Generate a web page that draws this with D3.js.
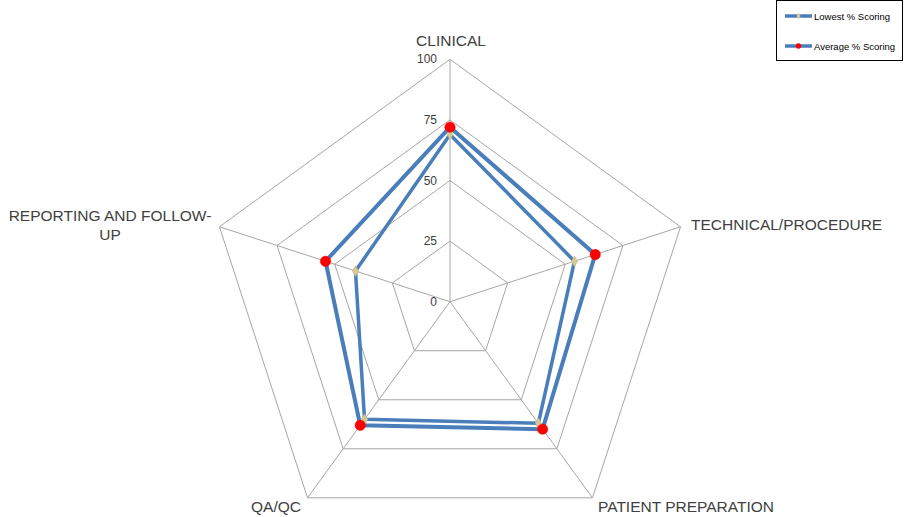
<!DOCTYPE html>
<html>
<head>
<meta charset="utf-8">
<script src="https://cdn.jsdelivr.net/npm/d3@7"></script>
<style>
  body { margin: 0; background: #fff; }
  svg { display: block; font-family: "Liberation Sans", Arial, sans-serif; }
</style>
</head>
<body>
<div id="chart"></div>
<script>
const categories = ["CLINICAL", "TECHNICAL/PROCEDURE", "PATIENT PREPARATION", "QA/QC", "REPORTING AND FOLLOW-UP"];
const lowestScoring = [69, 54, 62, 60, 41];
const averageScoring = [72, 63, 65, 63, 54];
const tickValues = [0, 25, 50, 75, 100];
const seriesNames = ["Lowest % Scoring", "Average % Scoring"];

const width = 904, height = 517;
const cx = 450, cy = 301.7, radius = 242.4;

const svg = d3.select("#chart").append("svg")
  .attr("width", width)
  .attr("height", height);

const r = d3.scaleLinear().domain([0, 100]).range([0, radius]);
const angle = i => -Math.PI / 2 + i * 2 * Math.PI / categories.length;
const pt = (i, v) => [cx + r(v) * Math.cos(angle(i)), cy + r(v) * Math.sin(angle(i))];

const grid = svg.append("g");
// rings
tickValues.filter(t => t > 0).forEach(t => {
  grid.append("polygon")
    .attr("points", categories.map((_, i) => pt(i, t).join(",")).join(" "))
    .attr("fill", "none")
    .attr("stroke", "#a6a6a6")
    .attr("stroke-width", 1);
});
// spokes
categories.forEach((_, i) => {
  const [x, y] = pt(i, 100);
  grid.append("line")
    .attr("x1", cx).attr("y1", cy).attr("x2", x).attr("y2", y)
    .attr("stroke", "#a6a6a6").attr("stroke-width", 1);
});

// tick labels
svg.append("g").selectAll("text")
  .data(tickValues)
  .join("text")
  .attr("x", cx - 13)
  .attr("y", d => cy - r(d) + 4)
  .attr("text-anchor", "end")
  .attr("font-size", 12)
  .attr("fill", "#404040")
  .text(d => d);

// category labels
const labelPos = [
  { x: 451, y: 46, anchor: "middle", lines: ["CLINICAL"] },
  { x: 691, y: 230, anchor: "start", lines: ["TECHNICAL/PROCEDURE"] },
  { x: 598, y: 512, anchor: "start", lines: ["PATIENT PREPARATION"] },
  { x: 301, y: 512, anchor: "end", lines: ["QA/QC"] },
  { x: 110, y: 221, anchor: "middle", lines: ["REPORTING AND FOLLOW-", "UP"] }
];
labelPos.forEach(p => {
  const t = svg.append("text")
    .attr("x", p.x).attr("y", p.y)
    .attr("text-anchor", p.anchor)
    .attr("font-size", 15.5)
    .attr("fill", "#404040");
  p.lines.forEach((l, k) => {
    t.append("tspan").attr("x", p.x).attr("dy", k === 0 ? 0 : 19).text(l);
  });
});

const lineColor = "#4a7ebb";
const series = [
  { name: seriesNames[0], values: lowestScoring, width: 3.5, marker: "diamond", fill: "#d4c894" },
  { name: seriesNames[1], values: averageScoring, width: 4, marker: "circle", fill: "#ff0000" }
];

series.forEach(s => {
  const pts = s.values.map((v, i) => pt(i, v));
  svg.append("path")
    .attr("d", d3.line()(pts) + "Z")
    .attr("fill", "none")
    .attr("stroke", lineColor)
    .attr("stroke-width", s.width)
    .attr("stroke-linejoin", "round");
});
series.forEach(s => {
  const pts = s.values.map((v, i) => pt(i, v));
  const sym = s.marker === "diamond"
    ? d3.symbol().type(d3.symbolDiamond).size(34)
    : d3.symbol().type(d3.symbolCircle).size(85);
  svg.append("g").selectAll("path")
    .data(pts)
    .join("path")
    .attr("transform", d => `translate(${d[0]},${d[1]})`)
    .attr("d", sym)
    .attr("fill", s.fill)
    .attr("stroke", s.marker === "diamond" ? "#c4b884" : "#ff0000")
    .attr("stroke-width", 0.5);
});

// legend
const legend = svg.append("g");
legend.append("rect")
  .attr("x", 776.5).attr("y", 0.5).attr("width", 126).attr("height", 60)
  .attr("fill", "#fff").attr("stroke", "#000").attr("stroke-width", 1);
series.forEach((s, i) => {
  const y = 16 + i * 30;
  legend.append("line")
    .attr("x1", 785).attr("x2", 812).attr("y1", y).attr("y2", y)
    .attr("stroke", lineColor).attr("stroke-width", 3.5);
  legend.append("path")
    .attr("transform", `translate(798.5,${y})`)
    .attr("d", d3.symbol().type(s.marker === "diamond" ? d3.symbolDiamond : d3.symbolCircle).size(s.marker === "diamond" ? 14 : 22))
    .attr("fill", s.fill);
  legend.append("text")
    .attr("x", 814).attr("y", y + 3.5)
    .attr("font-size", 9.5)
    .attr("fill", "#000")
    .text(s.name);
});
</script>
</body>
</html>
